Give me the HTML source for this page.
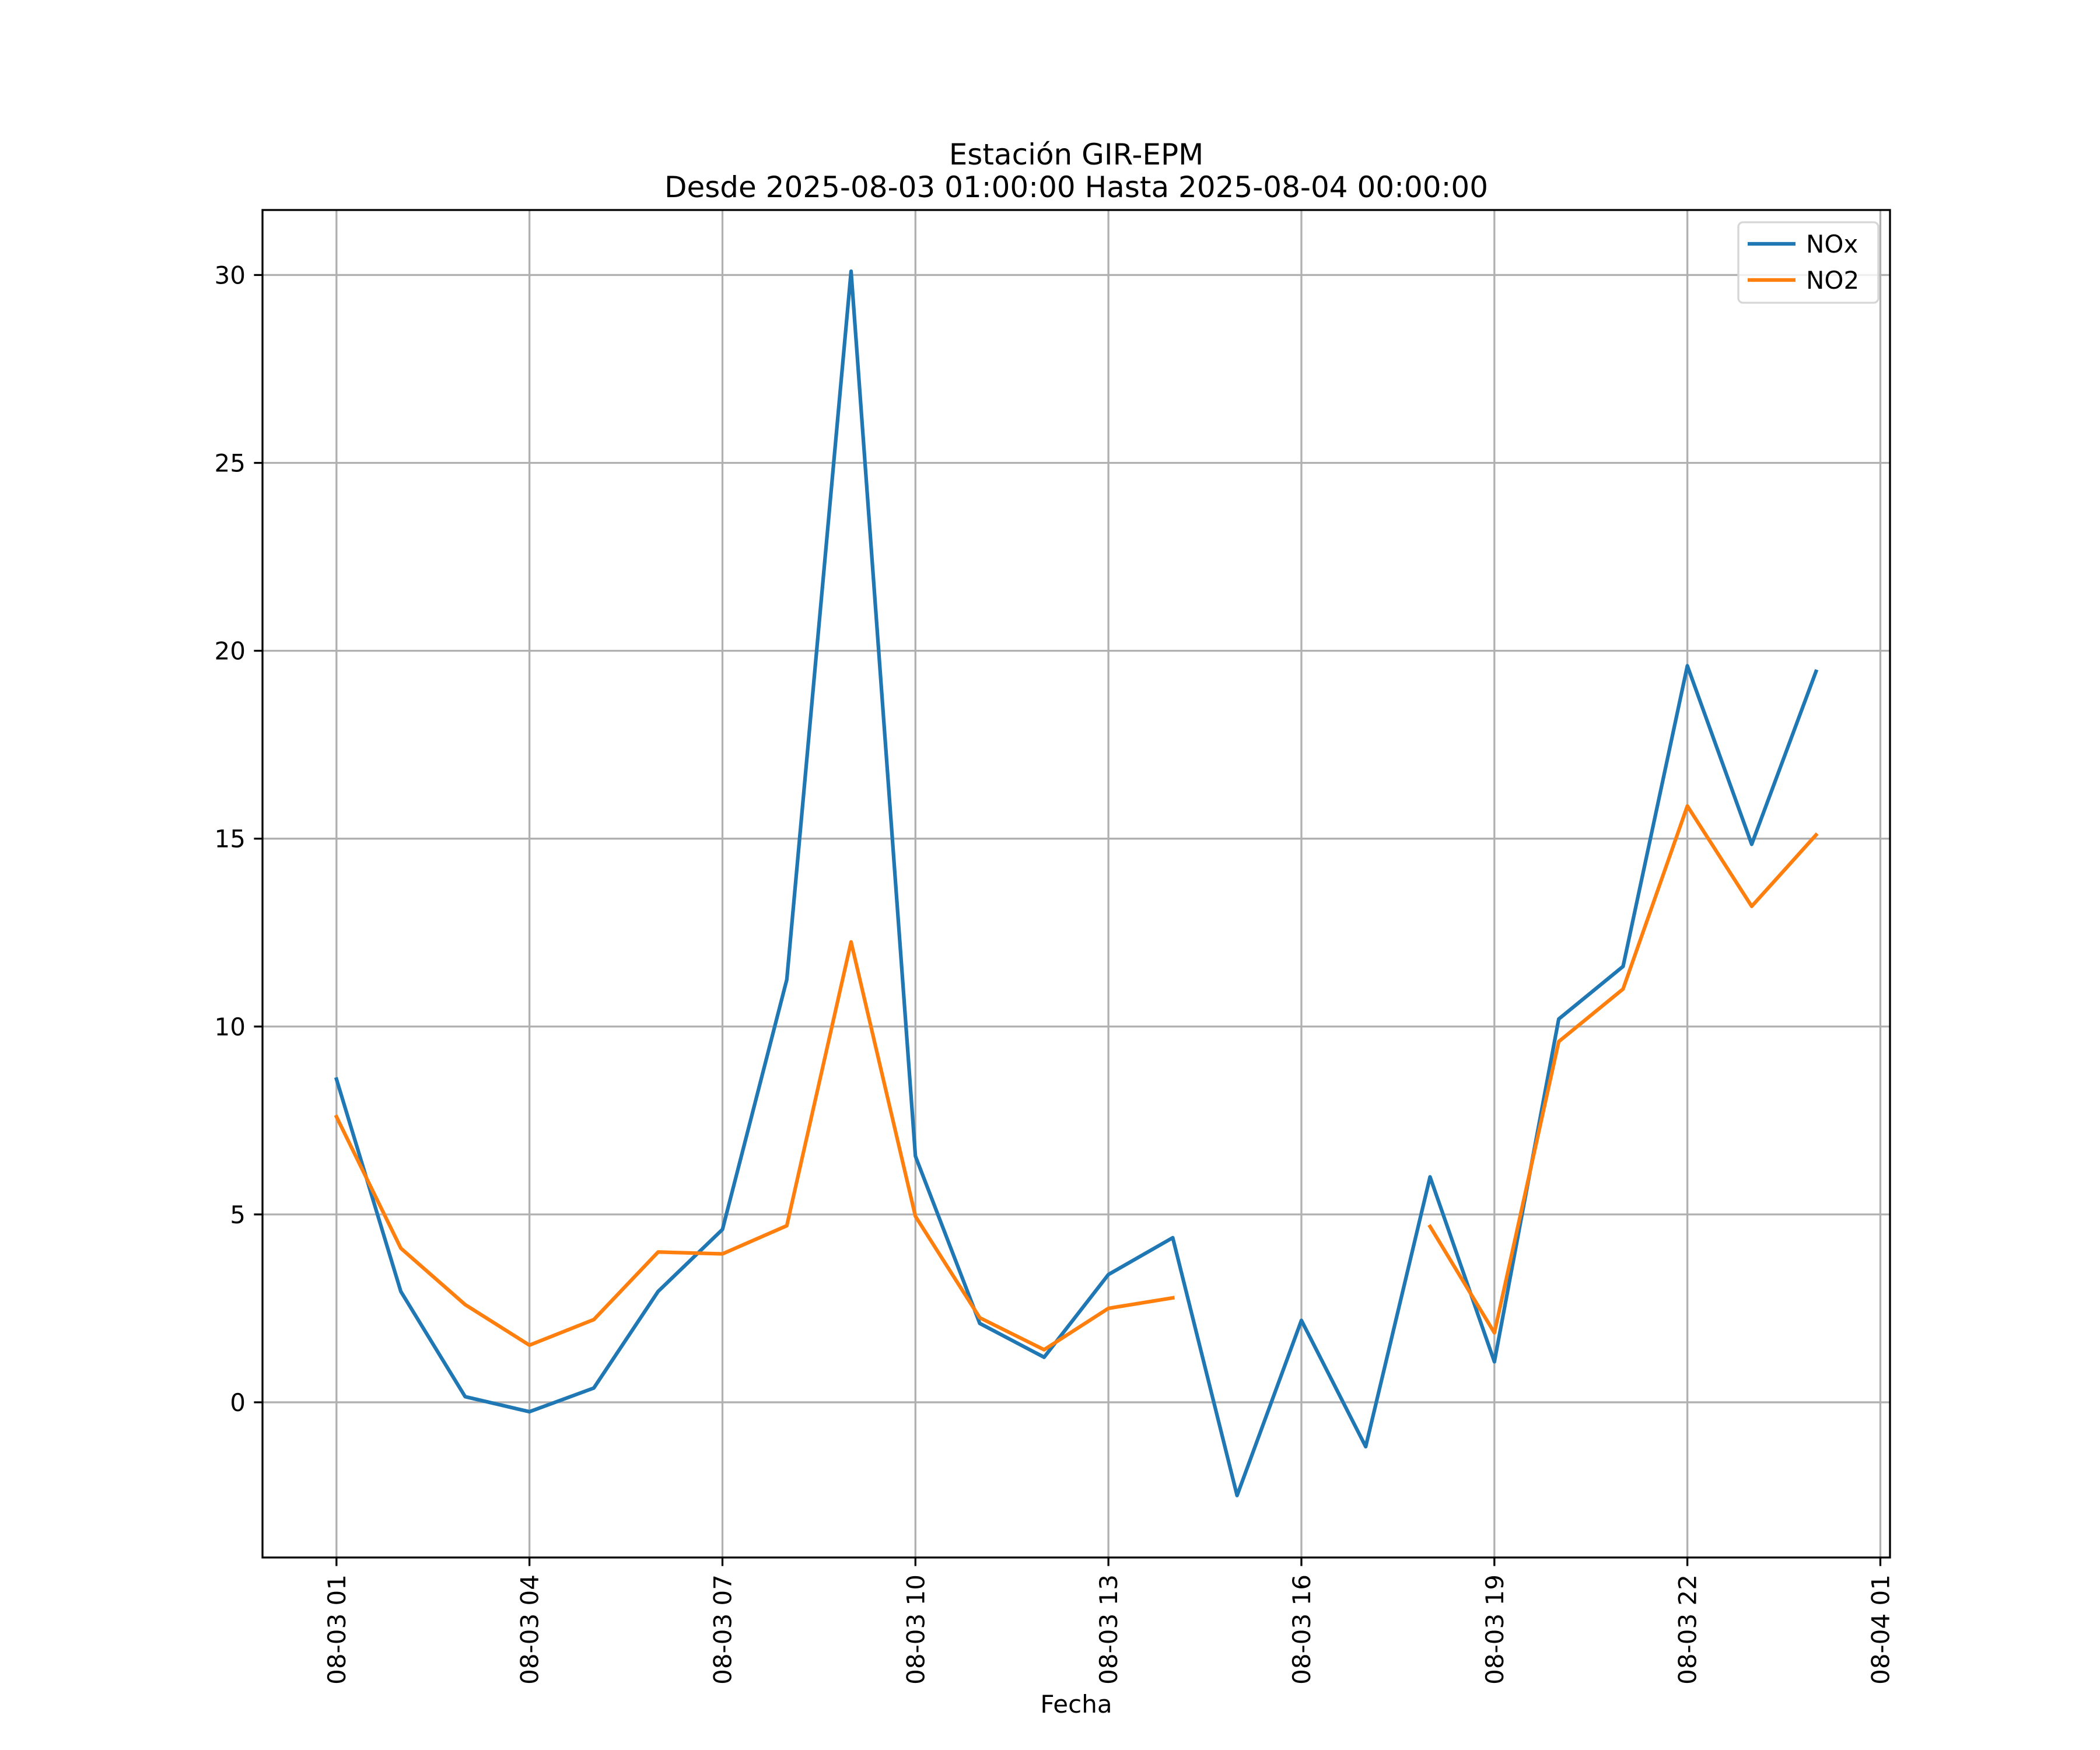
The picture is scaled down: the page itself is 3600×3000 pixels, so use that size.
<!DOCTYPE html>
<html><head><meta charset="utf-8"><style>html,body{margin:0;padding:0;background:#fff}svg{display:block}</style></head>
<body>
<svg id="chart" width="3600" height="3000" viewBox="0 0 3600 3000" xmlns="http://www.w3.org/2000/svg" font-family="'DejaVu Sans','Liberation Sans',sans-serif">
<rect width="3600" height="3000" fill="#fff"/>
<g id="grid"></g>
<g id="series"></g>
<rect x="450" y="360" width="2790" height="2310" fill="none" stroke="#000" stroke-width="3.3"/>
<g id="ticks"></g>
<text x="1845" y="282" font-size="50" text-anchor="middle">Estación GIR-EPM</text>
<text x="1845" y="338" font-size="50" text-anchor="middle">Desde 2025-08-03 01:00:00 Hasta 2025-08-04 00:00:00</text>
<text x="1845" y="2936" font-size="42" text-anchor="middle">Fecha</text>
<g>
<rect x="2980" y="381" width="240" height="138" rx="8" fill="#fff" fill-opacity="0.8" stroke="#d6d6d6" stroke-width="3.3"/>
<g><line x1="2996" y1="418" x2="3078" y2="418" stroke="#1f77b4" stroke-width="6.25"/><text x="3096" y="433" font-size="42">NOx</text></g>
<g><line x1="2996" y1="480" x2="3078" y2="480" stroke="#ff7f0e" stroke-width="6.25"/><text x="3096" y="495" font-size="42">NO2</text></g>
</g>
</svg>
<script>
const hours = [1,2,3,4,5,6,7,8,9,10,11,12,13,14,15,16,17,18,19,20,21,22,23,24];
const noxValues = [8.6,2.95,0.15,-0.25,0.38,2.95,4.6,11.25,30.1,6.55,2.1,1.2,3.4,4.38,-2.48,2.18,-1.18,6.0,1.08,10.2,11.6,19.6,14.85,19.45];
const no2Values = [7.6,4.1,2.6,1.52,2.2,4.0,3.95,4.7,12.25,4.95,2.25,1.4,2.5,2.78,null,null,null,4.68,1.85,9.6,11.0,15.87,13.2,15.1];
const xTickHours = [1,4,7,10,13,16,19,22,25];
const xTickLabels = ["08-03 01","08-03 04","08-03 07","08-03 10","08-03 13","08-03 16","08-03 19","08-03 22","08-04 01"];
const yTicks = [0,5,10,15,20,25,30];

const L=450,R=3240,T=360,B=2670;
const xMin=-0.15,xMax=25.15,yMin=-4.13,yMax=31.73;
const xs=h=>L+(h-xMin)/(xMax-xMin)*(R-L);
const ys=v=>B-(v-yMin)/(yMax-yMin)*(B-T);
const NS="http://www.w3.org/2000/svg";
function mk(tag,attrs,parent){const e=document.createElementNS(NS,tag);for(const k in attrs)e.setAttribute(k,attrs[k]);parent.appendChild(e);return e;}
const grid=document.getElementById('grid'),ticks=document.getElementById('ticks'),series=document.getElementById('series');
xTickHours.forEach((h,i)=>{
  const x=xs(h);
  const g=mk('line',{x1:x,x2:x,y1:T,y2:B,stroke:'#b0b0b0','stroke-width':3.3},grid);
  
  
  const t=mk('line',{x1:x,x2:x,y1:B,y2:B+14.6,stroke:'#000','stroke-width':3.3},ticks);
  
  
  const lb=mk('text',{transform:`translate(${x+15},${B+29}) rotate(-90)`,'font-size':42,'text-anchor':'end'},ticks);
  lb.textContent=xTickLabels[i];
  
  
});
yTicks.forEach(v=>{
  const y=ys(v);
  const g=mk('line',{x1:L,x2:R,y1:y,y2:y,stroke:'#b0b0b0','stroke-width':3.3},grid);
  
  
  const t=mk('line',{x1:L-14.6,x2:L,y1:y,y2:y,stroke:'#000','stroke-width':3.3},ticks);
  
  
  const lb=mk('text',{x:L-29,y:y+15,'font-size':42,'text-anchor':'end'},ticks);
  lb.textContent=String(v);
  
  
});
function drawSeries(vals,color,name){
  let d='',pen=false;
  vals.forEach((v,i)=>{
    if(v===null){pen=false;return;}
    d+=(pen?'L':'M')+xs(hours[i]).toFixed(1)+' '+ys(v).toFixed(1)+' ';
    pen=true;
  });
  const p=mk('path',{d:d,fill:'none',stroke:color,'stroke-width':6.25,'stroke-linejoin':'round','stroke-linecap':'square'},series);
  
  
}
drawSeries(noxValues,'#1f77b4','nox-line');
drawSeries(no2Values,'#ff7f0e','no2-line');
</script>
</body></html>
